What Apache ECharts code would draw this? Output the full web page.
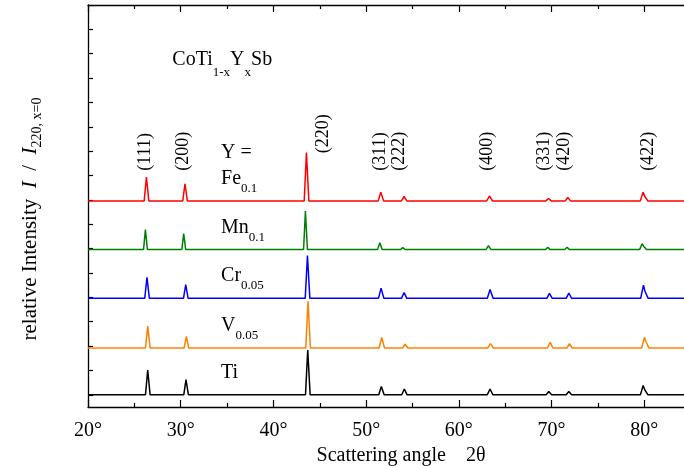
<!DOCTYPE html>
<html>
<head>
<meta charset="utf-8">
<script src="https://cdn.jsdelivr.net/npm/echarts@6/dist/echarts.min.js"></script>
<style>
  html, body { margin: 0; padding: 0; background: #fff; }
  #chart { width: 684px; height: 466px; }
</style>
</head>
<body>
<div id="chart"></div>
<script>
// X-ray powder patterns of CoTi(1-x)Y(x)Sb, stacked with vertical offsets.

const FONT = '"Liberation Serif", "Times New Roman", serif';

// y ticks (relative intensity units)
const yTicks = [0, 0.5, 1, 1.5, 2, 2.5, 3, 3.5, 4, 4.5, 5, 5.5, 6, 6.5, 7, 7.5, 8];

// samples, bottom to top
const sampleMain = ['Ti', 'V', 'Cr', 'Mn', 'Fe'];
const sampleSub = ['', '0.05', '0.05', '0.1', '0.1'];
const offsets = [0, 0.96, 1.98, 2.98, 3.98];

// patterns: [2θ in degrees, I / I(220, x=0)]
const patTi = [
  [20.0, 0], [26.20, 0], [26.44, 0.51], [26.70, 0],
  [30.33, 0], [30.57, 0.31], [30.83, 0],
  [43.46, 0], [43.70, 0.92], [43.96, 0],
  [51.36, 0], [51.64, 0.17], [51.94, 0],
  [53.84, 0], [54.12, 0.12], [54.42, 0],
  [63.06, 0], [63.36, 0.12], [63.68, 0],
  [69.42, 0], [69.70, 0.07], [70.00, 0],
  [71.58, 0], [71.86, 0.07], [72.16, 0],
  [79.58, 0], [79.88, 0.19], [80.06, 0.10], [80.12, 0.11], [80.40, 0],
  [84.6, 0]
];
const patV = [
  [20.0, 0], [26.20, 0], [26.44, 0.45], [26.70, 0],
  [30.37, 0], [30.61, 0.24], [30.87, 0],
  [43.49, 0], [43.73, 0.96], [43.99, 0],
  [51.40, 0], [51.68, 0.22], [51.98, 0],
  [53.92, 0], [54.20, 0.08], [54.50, 0],
  [63.11, 0], [63.41, 0.09], [63.73, 0],
  [69.56, 0], [69.84, 0.12], [70.14, 0],
  [71.65, 0], [71.93, 0.09], [72.23, 0],
  [79.72, 0], [80.02, 0.22], [80.16, 0.14], [80.22, 0.15], [80.50, 0],
  [84.6, 0]
];
const patCr = [
  [20.0, 0], [26.12, 0], [26.36, 0.43], [26.62, 0],
  [30.30, 0], [30.54, 0.28], [30.80, 0],
  [43.43, 0], [43.67, 0.88], [43.93, 0],
  [51.33, 0], [51.61, 0.21], [51.91, 0],
  [53.81, 0], [54.09, 0.12], [54.39, 0],
  [63.07, 0], [63.37, 0.18], [63.69, 0],
  [69.49, 0], [69.77, 0.10], [70.07, 0],
  [71.58, 0], [71.86, 0.11], [72.16, 0],
  [79.61, 0], [79.91, 0.27], [80.06, 0.15], [80.14, 0.17], [80.42, 0],
  [84.6, 0]
];
const patMn = [
  [20.0, 0], [25.99, 0], [26.19, 0.41], [26.41, 0],
  [30.12, 0], [30.32, 0.33], [30.54, 0],
  [43.25, 0], [43.45, 0.79], [43.67, 0],
  [51.23, 0], [51.47, 0.14], [51.73, 0],
  [53.71, 0], [53.95, 0.04], [54.21, 0],
  [62.93, 0], [63.19, 0.08], [63.47, 0],
  [69.35, 0], [69.59, 0.05], [69.85, 0],
  [71.43, 0], [71.67, 0.05], [71.93, 0],
  [79.50, 0], [79.76, 0.12], [79.92, 0.07], [79.98, 0.08], [80.24, 0],
  [84.6, 0]
];
const patFe = [
  [20.0, 0], [26.06, 0], [26.30, 0.49], [26.56, 0],
  [30.22, 0], [30.46, 0.35], [30.72, 0],
  [43.32, 0], [43.56, 0.99], [43.82, 0],
  [51.30, 0], [51.58, 0.18], [51.88, 0],
  [53.81, 0], [54.09, 0.09], [54.39, 0],
  [63.00, 0], [63.30, 0.10], [63.62, 0],
  [69.39, 0], [69.67, 0.05], [69.97, 0],
  [71.47, 0], [71.75, 0.07], [72.05, 0],
  [79.57, 0], [79.87, 0.18], [80.03, 0.10], [80.10, 0.11], [80.38, 0],
  [84.6, 0]
];
const patterns = [patTi, patV, patCr, patMn, patFe];

// reflection labels and where they sit along 2θ
const hklNames = ['(111)', '(200)', '(220)', '(311)', '(222)', '(400)', '(331)', '(420)', '(422)'];
const hklAngles = [26.22, 30.32, 45.42, 51.55, 53.62, 63.05, 69.20, 71.42, 80.40];

const colors = ['#000000', '#ff8000', '#0000ff', '#008000', '#ff0000'];

const chart = echarts.init(document.getElementById('chart'), null, { renderer: 'canvas' });

const axisLineStyle = { color: '#000', width: 1.3 };

const xCommon = {
  type: 'value',
  min: 20,
  max: 90,
  interval: 10,
  splitLine: { show: false },
  axisLine: { show: true, onZero: false, lineStyle: axisLineStyle },
  axisTick: { show: true, inside: true, length: 7, lineStyle: { color: '#000', width: 1.2 } },
  minorTick: { show: true, splitNumber: 2, length: 4, lineStyle: { color: '#000', width: 1.2 } },
  minorSplitLine: { show: false }
};

const option = {
  animation: false,
  backgroundColor: '#fff',
  grid: { left: 88, right: -53, top: 5, bottom: 59, containLabel: false, outerBoundsMode: 'none' },
  xAxis: [
    Object.assign({}, xCommon, {
      position: 'bottom',
      axisLabel: {
        show: true, showMaxLabel: false,
        formatter: '{value}°', fontFamily: FONT, fontSize: 20, color: '#000', margin: 14
      },
      name: 'Scattering angle    2θ',
      nameLocation: 'middle',
      nameGap: 33,
      nameTextStyle: { fontFamily: FONT, fontSize: 20, color: '#000', padding: [0, 23, 0, 0] }
    }),
    Object.assign({}, xCommon, {
      position: 'top',
      axisLabel: { show: false }
    })
  ],
  yAxis: [{
    type: 'value',
    min: -0.25,
    max: 8,
    position: 'left',
    splitLine: { show: false },
    axisLine: { show: true, onZero: false, lineStyle: axisLineStyle },
    axisTick: { show: true, inside: true, length: 5, customValues: yTicks, lineStyle: { color: '#000', width: 1.2 } },
    axisLabel: { show: false },
    name: 'relative Intensity  {i|I}  /  {i|I}{s|220, x=0}',
    nameLocation: 'middle',
    nameGap: 44,
    nameTextStyle: {
      fontFamily: FONT, fontSize: 21, color: '#000', lineHeight: 28,
      padding: [0, 26, 0, 0],
      rich: {
        i: { fontFamily: FONT, fontSize: 21, fontStyle: 'italic', color: '#000', lineHeight: 28 },
        s: { fontFamily: FONT, fontSize: 14, color: '#000', lineHeight: 14, verticalAlign: 'bottom' }
      }
    }
  }],
  series: patterns.map((pat, i) => ({
    type: 'line',
    name: sampleMain[i],
    xAxisIndex: 0,
    yAxisIndex: 0,
    showSymbol: false,
    symbol: 'none',
    silent: true,
    lineStyle: { color: colors[i], width: 1.5 },
    data: pat.map(p => [p[0], p[1] + offsets[i]])
  }))
};

chart.setOption(option);

// annotations placed in data coordinates
const toPx = (x, y) => chart.convertToPixel({ gridIndex: 0 }, [x, y]);
const graphics = [];

hklNames.forEach((t, i) => {
  const yv = t === '(220)' ? 4.96 : 4.60;
  const p = toPx(hklAngles[i], yv);
  graphics.push({
    type: 'text', x: p[0], y: p[1], rotation: Math.PI / 2,
    style: { text: t, fontFamily: FONT, fontSize: 18, fill: '#000', align: 'left', verticalAlign: 'middle' }
  });
});

const labelRich = {
  m: { fontFamily: FONT, fontSize: 20, fill: '#000', lineHeight: 33 },
  s: { fontFamily: FONT, fontSize: 13, fill: '#000', lineHeight: 13, verticalAlign: 'bottom' }
};

sampleMain.forEach((name, i) => {
  const p = toPx(34.35, offsets[i] + 0.12);
  const txt = sampleSub[i] ? '{m|' + name + '}{s|' + sampleSub[i] + '}' : '{m|' + name + '}';
  graphics.push({
    type: 'text', x: p[0], y: p[1],
    style: { text: txt, rich: labelRich, align: 'left', verticalAlign: 'bottom' }
  });
});

const pY = toPx(34.35, offsets[4] + 0.12 + 0.52);
graphics.push({
  type: 'text', x: pY[0], y: pY[1],
  style: { text: '{m|Y =}', rich: labelRich, align: 'left', verticalAlign: 'bottom' }
});

const pT = toPx(29.1, 6.49);
graphics.push({
  type: 'text', x: pT[0], y: pT[1],
  style: {
    text: '{m|CoTi}{s|1-x}{m|Y}{s|x}{m|Sb}',
    align: 'left', verticalAlign: 'bottom',
    rich: {
      m: { fontFamily: FONT, fontSize: 20, fill: '#000', lineHeight: 38 },
      s: { fontFamily: FONT, fontSize: 13, fill: '#000', lineHeight: 13, verticalAlign: 'bottom' }
    }
  }
});

chart.setOption({ graphic: graphics });
</script>
</body>
</html>
